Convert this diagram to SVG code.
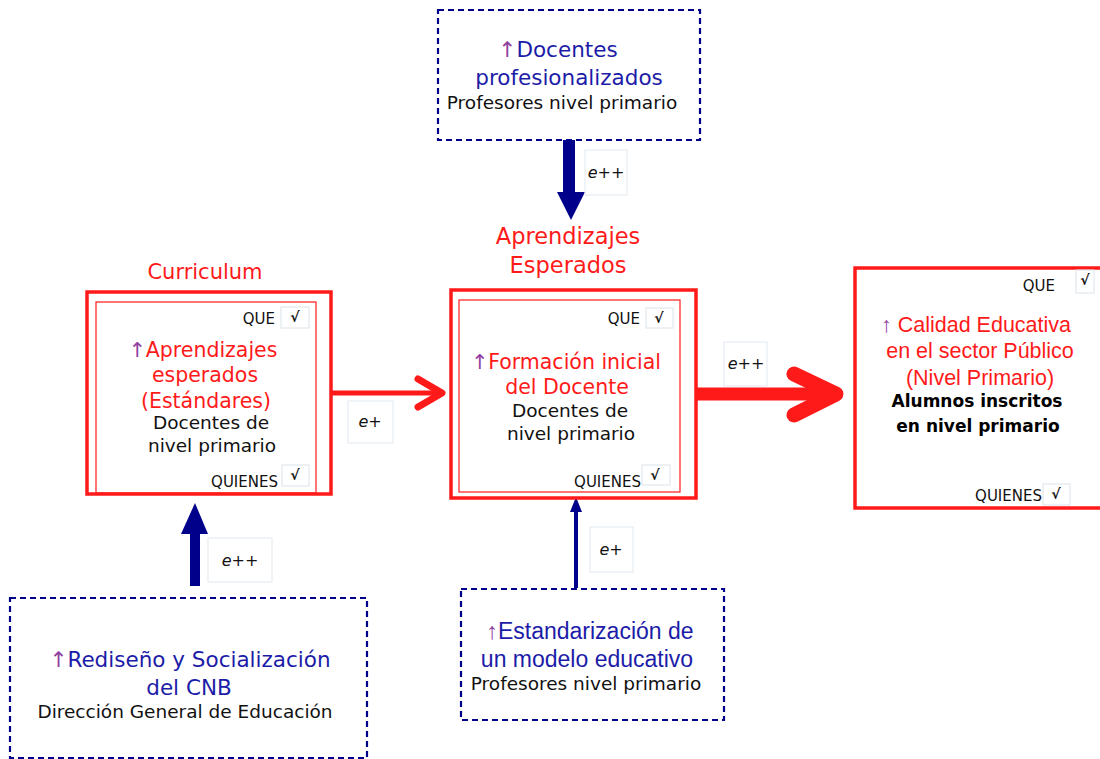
<svg xmlns="http://www.w3.org/2000/svg" width="1100" height="759" viewBox="0 0 1100 759">
<style>
text{font-family:"DejaVu Sans","Noto Sans",sans-serif;text-anchor:middle}
.title{fill:#ff1a1a;font-size:21px}
.title2{fill:#ff1a1a;font-size:22.5px}
.red{fill:#ff1a1a;font-size:20.5px}
.redA{fill:#ff1a1a;font-size:21.5px;font-family:"Liberation Sans",Arial,sans-serif}
.blue{fill:#1c1ca8;font-size:21.5px}
.blueA{fill:#1c1ca8;font-size:23px;font-family:"Liberation Sans",Arial,sans-serif}
.blk{fill:#111;font-size:18.5px}
.blkb{fill:#000;font-size:17px;font-weight:bold}
.tag{fill:#111;font-size:15px;text-anchor:end}
.ck{fill:#111;font-size:14px;font-style:italic;font-weight:bold}
.lbl{fill:#111;font-size:16px;font-style:italic}
.outer{fill:#fff;stroke:#ff1a1a;stroke-width:3.5}
.inner{fill:none;stroke:#ff1a1a;stroke-width:1.2}
.dash{fill:#fff;stroke:#00008b;stroke-width:2.2;stroke-dasharray:6 4}
.chk{fill:#fff;stroke:#dde3ea;stroke-width:1}
.lblbox{fill:#fff;stroke:#e2e8ef;stroke-width:1}
.navy{fill:#00008b}
.up{fill:#9040a0}
</style>

<g id="connectors">
  <line x1="332" y1="393" x2="440" y2="393" stroke="#ff1a1a" stroke-width="5"/>
  <polyline points="418,379 442,393 418,407" fill="none" stroke="#ff1a1a" stroke-width="7" stroke-linecap="round" stroke-linejoin="round"/>
  <line x1="697" y1="394" x2="832" y2="394" stroke="#ff1a1a" stroke-width="13"/>
  <polyline points="794,374 836,394 794,415" fill="none" stroke="#ff1a1a" stroke-width="15" stroke-linecap="round" stroke-linejoin="round"/>
  <rect class="navy" x="563" y="140" width="12" height="54"/>
  <polygon class="navy" points="557,192 585,192 571,220"/>
  <rect class="navy" x="190" y="532" width="10" height="54"/>
  <polygon class="navy" points="181,534 208,534 195,503"/>
  <rect class="navy" x="574" y="510" width="4" height="78"/>
  <polygon class="navy" points="570,512 582,512 576,497"/>
  <rect class="lblbox" x="348" y="401" width="45" height="42"/>
  <text class="lbl" x="370" y="427">e+</text>
  <rect class="lblbox" x="724" y="342" width="43" height="44"/>
  <text class="lbl" x="746" y="369">e++</text>
  <rect class="lblbox" x="585" y="150" width="42" height="45"/>
  <text class="lbl" x="606" y="178">e++</text>
  <rect class="lblbox" x="208" y="538" width="64" height="44"/>
  <text class="lbl" x="240" y="566">e++</text>
  <rect class="lblbox" x="590" y="527" width="43" height="45"/>
  <text class="lbl" x="611" y="555">e+</text>
</g>

<g id="curriculum">
  <text class="title" x="205" y="279">Curriculum</text>
  <rect class="outer" x="87" y="292" width="244" height="202"/>
  <rect class="inner" x="96" y="302" width="220" height="191"/>
  <text class="tag" x="275" y="324">QUE</text>
  <rect class="chk" x="281" y="307" width="28" height="21"/>
  <text class="ck" x="295" y="322">√</text>
  <text class="red" x="203" y="357"><tspan class="up">↑</tspan>Aprendizajes</text>
  <text class="red" x="205" y="382">esperados</text>
  <text class="red" x="206" y="408">(Estándares)</text>
  <text class="blk" x="211" y="429">Docentes de</text>
  <text class="blk" x="212" y="452">nivel primario</text>
  <text class="tag" x="278" y="487">QUIENES</text>
  <rect class="chk" x="282" y="465" width="27" height="21"/>
  <text class="ck" x="295" y="480">√</text>
</g>

<g id="formacion">
  <text class="title2" x="568" y="244">Aprendizajes</text>
  <text class="title2" x="568" y="273">Esperados</text>
  <rect class="outer" x="451" y="290" width="245" height="208"/>
  <rect class="inner" x="459" y="300" width="221" height="192"/>
  <text class="tag" x="640" y="324">QUE</text>
  <rect class="chk" x="646" y="308" width="27" height="20"/>
  <text class="ck" x="659" y="323">√</text>
  <text class="red" x="566" y="369"><tspan class="up">↑</tspan>Formación inicial</text>
  <text class="red" x="567" y="394">del Docente</text>
  <text class="blk" x="570" y="417">Docentes de</text>
  <text class="blk" x="571" y="440">nivel primario</text>
  <text class="tag" x="641" y="487">QUIENES</text>
  <rect class="chk" x="642" y="465" width="28" height="20"/>
  <text class="ck" x="655" y="480">√</text>
</g>

<g id="calidad">
  <rect class="outer" x="855" y="268" width="260" height="240"/>
  <text class="tag" x="1055" y="291">QUE</text>
  <rect class="chk" x="1076" y="270" width="18" height="23"/>
  <text class="ck" x="1085" y="285">√</text>
  <text class="redA" x="976" y="332"><tspan class="up">↑</tspan> Calidad Educativa</text>
  <text class="redA" x="980" y="358">en el sector Público</text>
  <text class="redA" x="980" y="385">(Nivel Primario)</text>
  <text class="blkb" x="977" y="407">Alumnos inscritos</text>
  <text class="blkb" x="978" y="432">en  nivel primario</text>
  <text class="tag" x="1042" y="501">QUIENES</text>
  <rect class="chk" x="1043" y="484" width="27" height="21"/>
  <text class="ck" x="1056" y="499">√</text>
</g>

<g id="docentes-prof">
  <rect class="dash" x="438" y="10" width="262" height="130"/>
  <text class="blue" x="558" y="57"><tspan class="up">↑</tspan>Docentes</text>
  <text class="blue" x="569" y="85">profesionalizados</text>
  <text class="blk" x="562" y="109">Profesores nivel primario</text>
</g>

<g id="rediseno">
  <rect class="dash" x="10" y="598" width="357" height="160"/>
  <text class="blue" x="190" y="667"><tspan class="up">↑</tspan>Rediseño y Socialización</text>
  <text class="blue" x="189" y="695">del CNB</text>
  <text class="blk" x="185" y="718">Dirección General de Educación</text>
</g>

<g id="estandarizacion">
  <rect class="dash" x="461" y="589" width="263" height="131"/>
  <text class="blueA" x="590" y="639"><tspan class="up">↑</tspan>Estandarización de</text>
  <text class="blueA" x="587" y="667">un modelo educativo</text>
  <text class="blk" x="586" y="690">Profesores nivel primario</text>
</g>
</svg>
